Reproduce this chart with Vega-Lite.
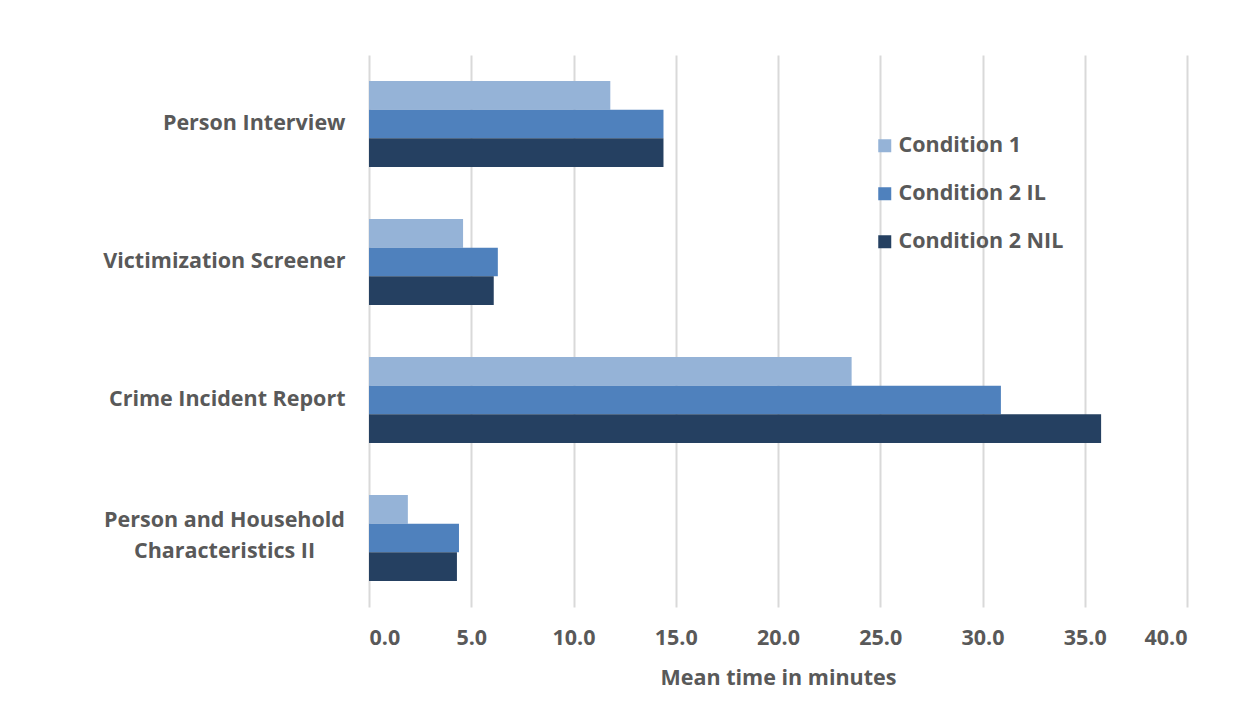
{
  "$schema": "https://vega.github.io/schema/vega-lite/v6.json",
  "autosize": {"type": "none"},
  "padding": {"left": 369, "top": 55, "right": 61, "bottom": 121},
  "width": 818,
  "height": 552,
  "background": "white",
  "config": {
    "font": "Open Sans",
    "view": {"stroke": null}
  },
  "data": {
    "values": [
      {"section": "Person Interview", "condition": "Condition 1", "minutes": 11.8},
      {"section": "Person Interview", "condition": "Condition 2 IL", "minutes": 14.4},
      {"section": "Person Interview", "condition": "Condition 2 NIL", "minutes": 14.4},
      {"section": "Victimization Screener", "condition": "Condition 1", "minutes": 4.6},
      {"section": "Victimization Screener", "condition": "Condition 2 IL", "minutes": 6.3},
      {"section": "Victimization Screener", "condition": "Condition 2 NIL", "minutes": 6.1},
      {"section": "Crime Incident Report", "condition": "Condition 1", "minutes": 23.6},
      {"section": "Crime Incident Report", "condition": "Condition 2 IL", "minutes": 30.9},
      {"section": "Crime Incident Report", "condition": "Condition 2 NIL", "minutes": 35.8},
      {"section": "Person and Household Characteristics II", "condition": "Condition 1", "minutes": 1.9},
      {"section": "Person and Household Characteristics II", "condition": "Condition 2 IL", "minutes": 4.4},
      {"section": "Person and Household Characteristics II", "condition": "Condition 2 NIL", "minutes": 4.3}
    ]
  },
  "mark": {"type": "bar"},
  "encoding": {
    "y": {
      "field": "section",
      "type": "nominal",
      "sort": ["Person Interview", "Victimization Screener", "Crime Incident Report", "Person and Household Characteristics II"],
      "scale": {"paddingInner": 0.377, "paddingOuter": 0.1885},
      "axis": {
        "title": null,
        "domain": false,
        "ticks": false,
        "grid": false,
        "labelPadding": {"condition": {"test": "datum.value == 'Person and Household Characteristics II'", "value": 145}, "value": 24},
        "labelAlign": {"condition": {"test": "datum.value == 'Person and Household Characteristics II'", "value": "center"}, "value": "right"},
        "labelOffset": {"condition": {"test": "datum.value == 'Person and Household Characteristics II'", "value": -17}, "value": 0},
        "labelFontSize": 21.5,
        "labelFontWeight": "bold",
        "labelColor": "#595959",
        "labelLineHeight": 31,
        "labelLimit": 400,
        "labelExpr": "datum.label == 'Person and Household Characteristics II' ? ['Person and Household', 'Characteristics II'] : datum.label"
      }
    },
    "yOffset": {
      "field": "condition",
      "type": "nominal",
      "sort": ["Condition 1", "Condition 2 IL", "Condition 2 NIL"],
      "scale": {"paddingInner": 0, "paddingOuter": 0}
    },
    "x": {
      "field": "minutes",
      "type": "quantitative",
      "scale": {"domain": [0, 40], "nice": false},
      "axis": {
        "title": "Mean time in minutes",
        "values": [0, 5, 10, 15, 20, 25, 30, 35, 40],
        "format": ".1f",
        "domain": false,
        "ticks": false,
        "grid": true,
        "gridColor": "#d9d9d9",
        "gridWidth": 2,
        "labelPadding": 20,
        "labelFontSize": 21.5,
        "labelFontWeight": "bold",
        "labelColor": "#595959",
        "titleFontSize": 21.5,
        "titleFontWeight": "bold",
        "titleColor": "#595959",
        "titlePadding": 19
      }
    },
    "color": {
      "field": "condition",
      "type": "nominal",
      "sort": ["Condition 1", "Condition 2 IL", "Condition 2 NIL"],
      "scale": {
        "domain": ["Condition 1", "Condition 2 IL", "Condition 2 NIL"],
        "range": ["#95b3d7", "#4f81bd", "#254061"]
      },
      "legend": {
        "title": null,
        "orient": "none",
        "legendX": 505,
        "legendY": 80,
        "symbolType": "square",
        "symbolSize": 169,
        "symbolStrokeWidth": 0,
        "labelFontSize": 21.5,
        "labelFontWeight": "bold",
        "labelColor": "#595959",
        "labelOffset": 3,
        "labelLimit": 400,
        "rowPadding": 25
      }
    }
  }
}
